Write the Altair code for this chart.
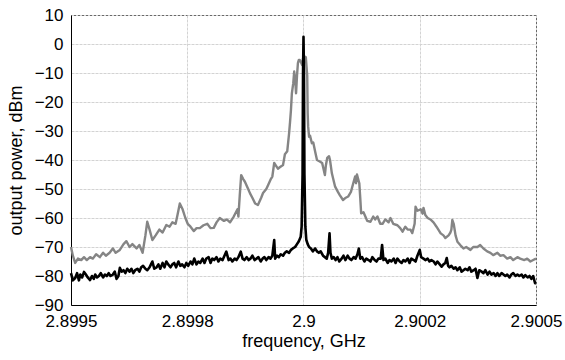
import altair as alt
import pandas as pd

# frequency offsets from 2.9 GHz in kHz, power in dBm
gray_khz = [-500, -496, -491, -485, -478, -472, -466, -459, -453, -446, -438, -431, -425, -417, -410, -404,
            -395, -387, -381, -374, -368, -359, -353, -346, -340, -336, -331, -325, -318, -310, -303, -295,
            -288, -282, -275, -271, -266, -260, -254, -249, -243, -236, -230, -223, -215, -207, -200, -193,
            -187, -180, -171, -165, -158, -150, -142, -140, -137, -134, -130, -126, -119, -115, -110, -104,
            -98, -91, -87, -80, -76, -70, -67, -63, -59, -55, -51, -44, -40, -35, -31, -29, -27, -25, -22,
            -20, -18, -16, -14, -12, -10, -8, -5, -3, -1, 1, 3, 5, 8, 9, 10, 12, 14, 18, 21, 25, 29, 35, 40,
            42, 46, 48, 51, 55, 57, 61, 68, 74, 78, 85, 91, 96, 102, 107, 111, 113, 115, 120, 122, 124, 129,
            133, 137, 144, 150, 154, 159, 165, 170, 176, 183, 187, 193, 202, 208, 213, 219, 224, 230, 234,
            239, 241, 245, 252, 256, 258, 262, 267, 273, 280, 286, 290, 295, 301, 305, 312, 316, 318, 320,
            323, 327, 331, 338, 344, 350, 359, 365, 374, 380, 387, 395, 402, 408, 417, 423, 430, 438, 445,
            451, 460, 466, 475, 481, 488, 494, 500]
gray_dbm = [-70, -73, -75.5, -74, -74.5, -73.5, -74.5, -73.5, -74, -72.5, -73.5, -72, -73, -72, -70.5, -72,
            -71, -69, -68, -70, -69, -70.5, -69.3, -72, -66, -61.3, -64, -67.6, -66, -64, -65, -62.4,
            -63, -61.5, -62, -59, -55, -57, -60, -62, -63, -64.5, -63.5, -63.5, -62.5, -62, -63.5, -63.4,
            -61.5, -60, -61, -60.5, -61.5, -59.5, -57, -59.5, -52, -45.2, -46.5, -47.5, -50, -51.5, -53, -55,
            -55.5, -53, -51.4, -50, -48.6, -46.5, -45.7, -41, -42, -43, -42.5, -41.7, -38, -37, -30.8, -27,
            -22.8, -17, -13.5, -9.5, -12, -17, -11, -6.6, -5.5, -5.5, -6.5, -7.2, -5, -4.5, -4.4, -4.5, -11,
            -24, -28.5, -32, -31.6, -34.2, -34, -37.1, -40, -40.5, -41, -42.3, -45.2, -42, -39.3, -38.7, -40,
            -44.6, -49.2, -51, -52.1, -53.8, -53, -52.6, -51, -48, -45.7, -48, -45, -48, -53, -58.4, -58,
            -59.5, -61, -61.3, -59.5, -60.5, -59.5, -62, -62, -60.5, -61.5, -60, -62, -62.5, -63.5, -64.7,
            -63, -64, -64, -65.2, -62, -56.1, -57.5, -57, -58.5, -56.5, -59, -60, -60.5, -61.6, -63, -64,
            -65.3, -66, -66.9, -66, -65, -64, -60.7, -62, -66, -68.2, -69.5, -70.5, -70, -71, -70, -70,
            -69.3, -70.5, -71.5, -72, -72.8, -72, -73, -72.8, -74, -73.5, -74.5, -73.5, -74, -74.5, -74,
            -75, -74.5, -74]

black_khz = [-500, -496, -491, -487, -483, -480, -476, -472, -468, -464, -459, -455, -451, -448, -444, -440,
             -436, -431, -427, -423, -419, -415, -410, -406, -402, -398, -395, -391, -387, -383, -379, -374,
             -370, -366, -362, -357, -353, -349, -345, -340, -336, -331, -328, -325, -321, -316, -312, -308,
             -303, -299, -295, -291, -286, -282, -278, -274, -269, -265, -261, -256, -252, -248, -243, -239,
             -235, -230, -226, -222, -217, -213, -209, -204, -200, -196, -192, -187, -183, -179, -174, -170,
             -166, -161, -157, -153, -148, -144, -140, -135, -131, -127, -122, -118, -114, -110, -105, -101,
             -97, -92, -88, -84, -80, -75, -71, -67, -63, -61, -57, -53, -49, -44, -40, -36, -31, -27, -23,
             -18, -14, -10, -6, -4, -2, -1, 0, 1, 2, 4, 6, 9, 12, 16, 20, 25, 29, 33, 37, 42, 46, 50, 53, 56,
             58, 61, 65, 69, 73, 77, 82, 86, 90, 95, 99, 103, 108, 112, 116, 119, 122, 126, 131, 135, 140,
             144, 148, 153, 157, 161, 166, 169, 172, 176, 181, 185, 189, 194, 198, 202, 207, 211, 215, 219,
             224, 228, 232, 237, 241, 245, 250, 253, 258, 262, 267, 271, 275, 280, 284, 288, 293, 297, 301,
             305, 308, 311, 314, 318, 323, 327, 331, 336, 340, 344, 348, 353, 357, 361, 366, 370, 374, 378,
             383, 387, 391, 396, 400, 404, 409, 413, 417, 421, 426, 430, 434, 438, 443, 447, 451, 456, 460,
             464, 469, 473, 477, 482, 486, 490, 494, 498, 500]
black_dbm = [-79, -81.5, -80.7, -79, -81.5, -79.5, -80.5, -78.6, -79.5, -80.5, -81.4, -80, -81, -79.5, -80.5, -80,
             -79, -80.5, -79.5, -80, -79, -80, -79.5, -78.5, -81, -80, -77.2, -78.5, -78, -79, -77.5, -78.5,
             -77.5, -79, -78, -77.5, -78.5, -77, -76.5, -77.5, -78, -77, -76, -75, -77.5, -77, -76, -77.5,
             -75.5, -77, -75, -76, -77, -76, -75.5, -77, -75, -76.5, -76, -77, -75.5, -76.5, -75, -76,
             -74, -76, -75, -75.5, -74, -75.5, -74, -73.5, -75.5, -74, -74.5, -73.5, -75, -74, -74.5, -73,
             -71.6, -74.5, -74, -75, -74, -74.5, -73.5, -71.6, -74, -74.5, -73.5, -74.5, -74, -73, -74.5, -74,
             -73.5, -75, -74, -73.5, -74.5, -73.5, -74, -73, -67.6, -74, -73, -73.5, -72.5, -73, -72, -71.5,
             -72, -71, -70.5, -70, -69, -68, -66.5, -63, -45, -10, 2.5, -10, -45, -63, -67.5, -69, -70, -70.5,
             -71.5, -70.5, -71.5, -72, -71.5, -73, -73.5, -74, -72, -65.3, -72, -74, -73.5, -74.5, -73.5, -75,
             -74, -73, -74.5, -73, -74, -74.5, -73.5, -74, -72.5, -70.5, -74, -73.5, -75, -74, -74.5, -75,
             -73.5, -74.5, -75, -74, -74, -69.3, -74.5, -74, -75.5, -74.5, -75, -74, -75.5, -74, -75, -75.5,
             -74.5, -75, -74, -75.5, -74, -74.5, -75, -73, -71, -73.5, -74, -74.5, -74, -75, -74.5, -75, -76,
             -75, -76, -76.8, -76, -75.5, -73.8, -76.5, -77, -76.5, -77.5, -77, -78, -77, -78.5, -78, -77.5,
             -78, -77, -78.5, -78, -77.5, -80.7, -78, -78.5, -79, -78, -79.5, -78.5, -79.5, -79, -80, -79,
             -80, -79, -79.5, -80, -79.5, -80.5, -79.5, -79, -80, -79.5, -80, -79.5, -80.5, -79.7, -80.5, -80,
             -81, -80, -82.5, -82.5]

x_ticks = [2.8995, 2.89975, 2.9, 2.90025, 2.9005]
x_tick_labels = ["2.8995", "2.8998", "2.9", "2.9002", "2.9005"]
y_ticks = [-90, -80, -70, -60, -50, -40, -30, -20, -10, 0, 10]

center_ghz = 2.9
gray_df = pd.DataFrame({"f": [center_ghz + k * 1e-6 for k in gray_khz], "p": gray_dbm, "s": "gray"})
black_df = pd.DataFrame({"f": [center_ghz + k * 1e-6 for k in black_khz], "p": black_dbm, "s": "black"})

# label expression built from tick arrays
expr = "'" + x_tick_labels[-1] + "'"
for v, lab in reversed(list(zip(x_ticks[:-1], x_tick_labels[:-1]))):
    expr = f"datum.value < {v + 0.00005} ? '{lab}' : ({expr})"

FONT = "Liberation Sans"
x_enc = alt.X("f:Q", scale=alt.Scale(domain=[2.8995, 2.9005], nice=False, zero=False),
              axis=alt.Axis(values=x_ticks, labelExpr=expr, title="frequency, GHz"))
y_enc = alt.Y("p:Q", scale=alt.Scale(domain=[-90, 10], nice=False, zero=False),
              axis=alt.Axis(values=y_ticks, title="output power, dBm"))

gray = alt.Chart(gray_df).mark_line(color="#858585", strokeWidth=2.4, strokeJoin="round").encode(
    x=x_enc, y=y_enc, order=alt.Order("f:Q"))
black = alt.Chart(black_df).mark_line(color="#000000", strokeWidth=2.6, strokeJoin="round").encode(
    x=x_enc, y=y_enc, order=alt.Order("f:Q"))

chart = alt.layer(gray, black).properties(
    width=465, height=290,
    autosize=alt.AutoSizeParams(type="none"),
    padding={"left": 71, "top": 15, "right": 29, "bottom": 55},
).configure_view(
    stroke="#000000", strokeWidth=1
).configure_axis(
    labelFont=FONT, titleFont=FONT, labelFontSize=17, titleFontSize=18,
    labelColor="#000", titleColor="#000", titleFontWeight="normal",
    grid=True, gridColor="#d3d3d3", gridDash=[3, 1], gridWidth=1,
    domainColor="#000", ticks=False, labelPadding=8,
).configure_axisX(titlePadding=3, labelFlush=False).configure_axisY(titlePadding=9, labelFlush=False)

chart.save("out.html", embed_options={"renderer": "svg", "actions": False})
